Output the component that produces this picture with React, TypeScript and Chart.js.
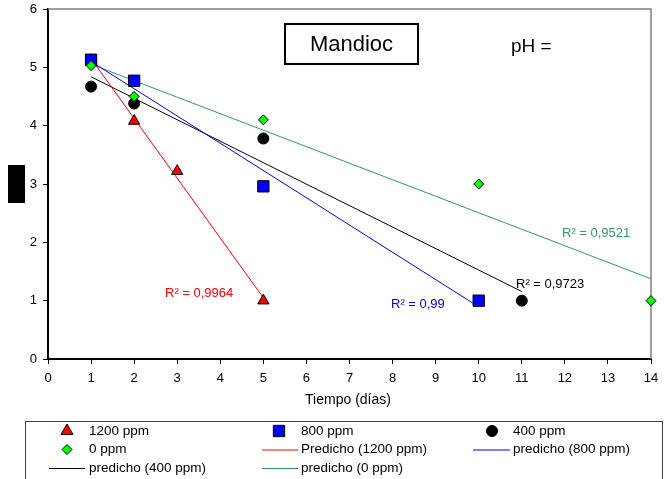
import React, { useEffect, useRef } from 'react';
import { Chart, registerables } from 'chart.js';
Chart.register(...registerables);

// ---- data ----
const days1200 = [1, 2, 3, 5];
const ph1200 = [5.12, 4.08, 3.22, 1.0];
const days800 = [1, 2, 5, 10];
const ph800 = [5.13, 4.77, 2.96, 1.0];
const days400 = [1, 2, 5, 11];
const ph400 = [4.67, 4.38, 3.78, 1.0];
const days0 = [1, 2, 5, 10, 14];
const ph0 = [5.03, 4.5, 4.1, 3.0, 1.0];
const r2Texts = ['R² = 0,9964', 'R² = 0,99', 'R² = 0,9723', 'R² = 0,9521'];
const legendLabels = [
  '1200 ppm', '800 ppm', '400 ppm',
  '0 ppm', 'Predicho (1200 ppm)', 'predicho (800 ppm)',
  'predicho (400 ppm)', 'predicho (0 ppm)',
];
const xTitle = 'Tiempo (días)';
const chartTitle = 'Mandioc';
const phLabel = 'pH =';

const FONT = "'Liberation Sans', Arial, sans-serif";
const RED = '#FF0000';
const BLUE = '#0000FF';
const BLACK = '#000000';
const LIME = '#00FF00';
const SEA = '#339966';

function pts(xs: number[], ys: number[]) {
  return xs.map((x, i) => ({ x, y: ys[i] }));
}
function fit(xs: number[], ys: number[]) {
  const n = xs.length;
  const mx = xs.reduce((a, b) => a + b, 0) / n;
  const my = ys.reduce((a, b) => a + b, 0) / n;
  let sxy = 0, sxx = 0;
  for (let i = 0; i < n; i++) {
    sxy += (xs[i] - mx) * (ys[i] - my);
    sxx += (xs[i] - mx) * (xs[i] - mx);
  }
  const b = sxy / sxx;
  const a = my - b * mx;
  const x0 = Math.min(...xs), x1 = Math.max(...xs);
  return [{ x: x0, y: a + b * x0 }, { x: x1, y: a + b * x1 }];
}

function drawMarker(ctx: CanvasRenderingContext2D, style: string, x: number, y: number, r: number, fill: string) {
  ctx.save();
  ctx.fillStyle = fill;
  ctx.strokeStyle = '#000';
  ctx.lineWidth = 1;
  ctx.beginPath();
  if (style === 'triangle') {
    ctx.moveTo(x, y - r);
    ctx.lineTo(x + 0.866 * r, y + r / 2);
    ctx.lineTo(x - 0.866 * r, y + r / 2);
    ctx.closePath();
  } else if (style === 'rect') {
    const s = Math.SQRT1_2 * r;
    ctx.rect(x - s, y - s, 2 * s, 2 * s);
  } else if (style === 'circle') {
    ctx.arc(x, y, r, 0, Math.PI * 2);
  } else if (style === 'rectRot') {
    ctx.moveTo(x, y - r);
    ctx.lineTo(x + r, y);
    ctx.lineTo(x, y + r);
    ctx.lineTo(x - r, y);
    ctx.closePath();
  }
  ctx.fill();
  ctx.stroke();
  ctx.restore();
}

const decorPlugin = {
  id: 'decor',
  beforeDatasetsDraw(chart: any) {
    const ctx: CanvasRenderingContext2D = chart.ctx;
    const ca = chart.chartArea;
    ctx.save();
    // top & right frame
    ctx.strokeStyle = '#808080';
    ctx.lineWidth = 1.5;
    ctx.beginPath();
    ctx.moveTo(ca.left, ca.top);
    ctx.lineTo(ca.right, ca.top);
    ctx.lineTo(ca.right, ca.bottom);
    ctx.stroke();
    ctx.restore();
  },
  afterDraw(chart: any) {
    const ctx: CanvasRenderingContext2D = chart.ctx;
    ctx.save();
    // title box
    ctx.fillStyle = '#fff';
    ctx.fillRect(285, 24, 133, 40);
    ctx.strokeStyle = '#000';
    ctx.lineWidth = 2;
    ctx.strokeRect(285, 24, 133, 40);
    ctx.fillStyle = '#000';
    ctx.font = `22px ${FONT}`;
    ctx.textAlign = 'center';
    ctx.textBaseline = 'middle';
    ctx.fillText(chartTitle, 351.5, 45);
    ctx.font = `19px ${FONT}`;
    ctx.textAlign = 'left';
    ctx.fillText(phLabel, 511, 47);

    // y-axis title (redacted block)
    ctx.fillStyle = '#000';
    ctx.fillRect(8, 165, 17, 38);

    // x axis title
    ctx.font = `14px ${FONT}`;
    ctx.textAlign = 'center';
    ctx.fillText(xTitle, 348, 400);

    // R² labels
    ctx.font = `13px ${FONT}`;
    ctx.textAlign = 'left';
    ctx.fillStyle = RED;
    ctx.fillText(r2Texts[0], 165, 293);
    ctx.fillStyle = BLUE;
    ctx.fillText(r2Texts[1], 391, 304);
    ctx.fillStyle = BLACK;
    ctx.fillText(r2Texts[2], 516, 284);
    ctx.fillStyle = SEA;
    ctx.fillText(r2Texts[3], 562, 233);

    // legend
    ctx.strokeStyle = '#404040';
    ctx.lineWidth = 1;
    ctx.strokeRect(25.5, 421.5, 637, 70);
    const colSym = [67, 279, 492];
    const colLine = [[49, 85], [262, 298], [473, 510]];
    const colText = [89, 301, 513];
    const rowY = [431, 449.5, 468];
    const items = [
      { t: 'm', style: 'triangle', fill: RED, r: 7 },
      { t: 'm', style: 'rect', fill: BLUE, r: 8 },
      { t: 'm', style: 'circle', fill: BLACK, r: 5.5 },
      { t: 'm', style: 'rectRot', fill: LIME, r: 5 },
      { t: 'l', color: RED },
      { t: 'l', color: BLUE },
      { t: 'l', color: BLACK },
      { t: 'l', color: SEA },
    ];
    ctx.font = `13.5px ${FONT}`;
    ctx.textBaseline = 'middle';
    items.forEach((it: any, i) => {
      const c = i % 3, r = Math.floor(i / 3);
      const y = rowY[r];
      if (it.t === 'm') {
        drawMarker(ctx, it.style, colSym[c], y, it.r, it.fill);
      } else {
        ctx.strokeStyle = it.color;
        ctx.lineWidth = 1;
        ctx.beginPath();
        ctx.moveTo(colLine[c][0], y + 0.5);
        ctx.lineTo(colLine[c][1], y + 0.5);
        ctx.stroke();
      }
      ctx.fillStyle = '#000';
      ctx.fillText(legendLabels[i], colText[c], y);
    });
    ctx.restore();
  },
};

export default function App() {
  const ref = useRef<HTMLCanvasElement>(null);
  useEffect(() => {
    document.body.style.margin = '0';
    const canvas = ref.current!;
    const lineDs = (data: any, color: string) => ({
      type: 'line' as const,
      data,
      showLine: true,
      borderColor: color,
      borderWidth: 1,
      pointRadius: 0,
      fill: false,
      order: 1,
    });
    const markDs = (data: any, style: string, color: string, r: number) => ({
      type: 'scatter' as const,
      data,
      showLine: false,
      pointStyle: style,
      pointRadius: r,
      pointBackgroundColor: color,
      pointBorderColor: '#000',
      pointBorderWidth: 1,
      clip: false,
      order: 0,
    });
    const tickFont = { family: FONT, size: 13 };
    const chart = new Chart(canvas, {
      type: 'scatter',
      data: {
        datasets: [
          markDs(pts(days0, ph0), 'rectRot', LIME, 5),
          markDs(pts(days800, ph800), 'rect', BLUE, 8),
          markDs(pts(days400, ph400), 'circle', BLACK, 5.5),
          markDs(pts(days1200, ph1200), 'triangle', RED, 6.5),
          lineDs(fit(days1200, ph1200), RED),
          lineDs(fit(days800, ph800), BLUE),
          lineDs(fit(days400, ph400), BLACK),
          lineDs(fit(days0, ph0), SEA),
        ] as any,
      },
      options: {
        animation: false,
        responsive: false,
        devicePixelRatio: 1,
        layout: { padding: { left: 0, right: 13, top: 8, bottom: 0 } },
        plugins: { legend: { display: false }, tooltip: { enabled: false } },
        scales: {
          x: {
            type: 'linear',
            min: 0,
            max: 14,
            afterFit: (s: any) => { s.height = 120; s.paddingLeft = 0; s.paddingRight = 0; },
            ticks: { stepSize: 1, font: tickFont, color: '#000', padding: 7, maxRotation: 0, autoSkip: false },
            grid: { display: true, drawOnChartArea: false, drawTicks: true, tickLength: 5, color: '#000', lineWidth: 1 },
            border: { display: true, color: '#000', width: 2 },
          },
          y: {
            min: 0,
            max: 6,
            afterFit: (s: any) => { s.width = 48; s.paddingTop = 0; s.paddingBottom = 0; },
            ticks: { stepSize: 1, font: tickFont, color: '#000', padding: 6 },
            grid: { display: true, drawOnChartArea: false, drawTicks: true, tickLength: 5, color: '#000', lineWidth: 1 },
            border: { display: true, color: '#000', width: 2 },
          },
        },
      },
      plugins: [decorPlugin],
    });
    return () => chart.destroy();
  }, []);
  return (
    <div style={{ width: 664, height: 479, background: '#fff' }}>
      <canvas ref={ref} width={664} height={479} style={{ display: 'block' }} />
    </div>
  );
}
